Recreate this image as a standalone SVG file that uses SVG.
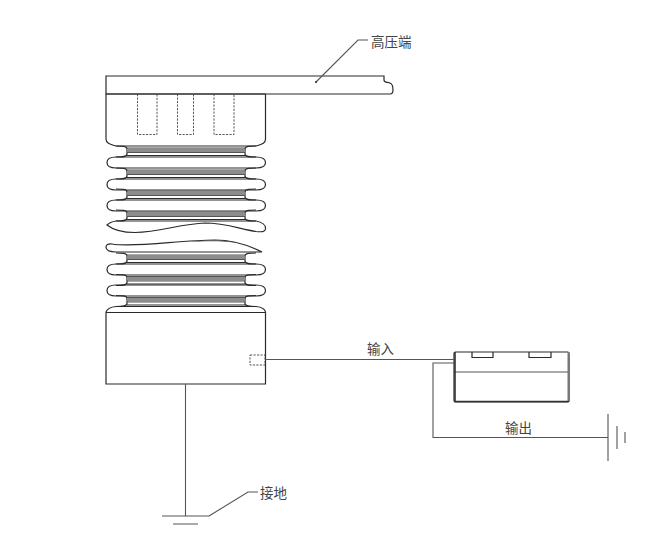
<svg xmlns="http://www.w3.org/2000/svg" xmlns:xlink="http://www.w3.org/1999/xlink" width="665" height="548" viewBox="0 0 665 548">
<style>
.l{fill:none;stroke:#2a2a2a;stroke-width:1.200}
.w{fill:none;stroke:#555;stroke-width:1.100}
.d{fill:none;stroke:#444;stroke-width:.9;stroke-dasharray:2.200 1.300}
.t{font-family:"Noto Sans CJK SC","Liberation Sans",sans-serif;font-size:13.500px;fill:#444}
</style>
<defs>
<g id="neck">
<path class="l" d="M116,0C122,0 127,0 127,3V8C127,11 122,11 116,11M256,0C250,0 245,0 245,3V8C245,11 250,11 256,11"/>
<rect x="127" y="2.500" width="118" height="3.500" fill="#8c8c8c"/>
<path class="w" d="M127,2H245M127,6.500H245"/>
<path class="l" d="M127,9.500H245"/>
</g>
<path id="shed" class="l" d="M116,0H256C262,0 265.500,2 265.500,5.500C265.500,9 262,11 256,11H116C110,11 107,9 107,5.500C107,2 110,0 116,0Z"/>
</defs>
<g id="high-voltage-bar">
<path class="l" d="M106,76H384V80C384,83 387,82 390,83C393,84 393,87 393,90C393,93 392,94 390,94H106Z"/>
<path class="l" d="M106,94H265.500"/>
</g>
<g id="insulator">
<path class="l" d="M106,94V139C106,143 109,144 116,146H256C263,144 265.500,143 265.500,139V94"/>
<path class="d" d="M137.500,94V134.500H157V94M177.500,94V134.500H193.500V94M214,94V134.500H234V94"/>
<use xlink:href="#neck" href="#neck" y="146"/>
<use xlink:href="#shed" href="#shed" y="157"/>
<use xlink:href="#neck" href="#neck" y="168"/>
<use xlink:href="#shed" href="#shed" y="179"/>
<use xlink:href="#neck" href="#neck" y="189"/>
<use xlink:href="#shed" href="#shed" y="200"/>
<use xlink:href="#neck" href="#neck" y="210"/>
<path class="l" d="M116,221H256C262,222 266,225 265.500,229C265,232 262,232 256,231.500C240,229 225,223 205,223C180,224 160,232 135,232.500C122,232.500 112,229 107,225C110,222 113,221.500 116,221Z"/>
<path class="l" d="M112,244C135,248 180,240 215,240C235,240 250,246 262,252H116C109,252 106,250 106,247C106,245 108,243.500 112,244Z"/>
<path d="M190,242C205,240 225,239 238,243C225,241 205,241 190,242Z" fill="#555"/>
<use xlink:href="#neck" href="#neck" y="253"/>
<use xlink:href="#shed" href="#shed" y="264"/>
<use xlink:href="#neck" href="#neck" y="274.500"/>
<use xlink:href="#shed" href="#shed" y="285"/>
<use xlink:href="#neck" href="#neck" y="295.500"/>
<path class="l" d="M106,312C107,309 111,307 116,306.500H256C261,307 265,309 265.500,312"/>
<path class="l" d="M106,312.500H265.500V384H106Z"/>
<path class="d" d="M250,355H265V365H250Z"/>
</g>
<g id="sensor-box">
<rect class="l" x="454" y="352" width="115" height="50" rx="1.500"/>
<path class="w" d="M454,372H569"/>
<path d="M568.500,352V402" fill="none" stroke="#777" stroke-width="2"/>
<path d="M455,352V402M454,401.500H569" fill="none" stroke="#333" stroke-width="1.600"/>
<path class="l" d="M472,352V357.500H493V352M529,352V357.500H551V352"/>
</g>
<g id="connectors">
<path class="w" d="M265,359.500H454"/>
<path class="w" d="M454,363H433V437.500H608"/>
<path class="w" d="M608,414V461M617,426V449M625,432V443"/>
<path class="w" d="M185.500,384V516"/>
<path class="w" d="M162,516H209M173,524H198"/>
<path class="w" d="M209,516L248,492H258"/>
<path class="w" d="M316,82L358,40H368"/>
<circle cx="316" cy="82" r="1.100" fill="#333"/>
</g>
<g id="labels">
<text class="t" x="371" y="47">高压端</text>
<text class="t" x="367" y="354">输入</text>
<text class="t" x="505" y="433">输出</text>
<text class="t" x="260" y="498">接地</text>
</g>
</svg>
